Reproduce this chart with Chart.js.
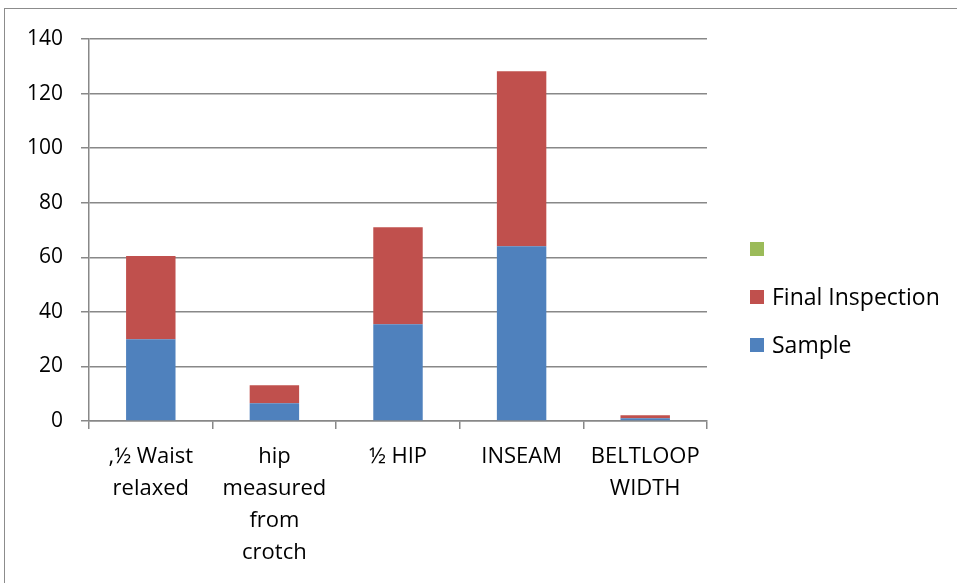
<!DOCTYPE html>
<html>
<head>
<meta charset="utf-8">
<script src="https://cdn.jsdelivr.net/npm/chart.js@4/dist/chart.umd.min.js"></script>
<style>
  html, body { margin: 0; padding: 0; background: #fff; }
  #wrap { width: 957px; height: 583px; position: relative; }
</style>
</head>
<body>
<div id="wrap"><canvas id="chart" width="957" height="583"></canvas></div>
<script>
// Measurement points (multi-line labels as arrays of lines)
const categories = [
  [',\u00BD Waist', 'relaxed'],
  ['hip', 'measured', 'from', 'crotch'],
  '\u00BD HIP',
  'INSEAM',
  ['BELTLOOP', 'WIDTH']
];
const sampleValues = [30, 6.5, 35.5, 64, 1];
const finalInspectionValues = [30.5, 6.6, 35.5, 64.2, 1.1];
const blankSeriesValues = [];
const seriesNames = ['Sample', 'Final Inspection', ''];
const yTicks = [0, 20, 40, 60, 80, 100, 120, 140];

const FONT = "'Open Sans', 'DejaVu Sans', sans-serif";
const GRID = '#888888';

// Outer frame of the chart object
const framePlugin = {
  id: 'frame',
  beforeDraw(chart) {
    const ctx = chart.ctx;
    ctx.save();
    ctx.fillStyle = '#ffffff';
    ctx.fillRect(0, 0, chart.width, chart.height);
    ctx.strokeStyle = '#8c8c8c';
    ctx.lineWidth = 1;
    ctx.strokeRect(4.5, 8.5, 2000, 2000);
    ctx.restore();
  }
};

// Legend on the right, series listed top-down in reverse order
const sideLegend = {
  id: 'sideLegend',
  afterDraw(chart) {
    const ctx = chart.ctx;
    const ds = chart.data.datasets.slice().reverse();
    ctx.save();
    ctx.font = '23px ' + FONT;
    ctx.textBaseline = 'middle';
    ctx.textAlign = 'left';
    ds.forEach((d, i) => {
      const cy = 249 + i * 48;
      ctx.fillStyle = d.backgroundColor;
      ctx.fillRect(750, cy - 7, 14, 14);
      ctx.fillStyle = '#000';
      ctx.fillText(d.label, 772, cy + 1);
    });
    ctx.restore();
  }
};

new Chart(document.getElementById('chart'), {
  type: 'bar',
  data: {
    labels: categories,
    datasets: [
      { label: seriesNames[0], data: sampleValues, backgroundColor: '#4F81BD', borderWidth: 0 },
      { label: seriesNames[1], data: finalInspectionValues, backgroundColor: '#C0504D', borderWidth: 0 },
      { label: seriesNames[2], data: blankSeriesValues, backgroundColor: '#9BBB59', borderWidth: 0 }
    ]
  },
  options: {
    responsive: false,
    animation: false,
    events: [],
    layout: { padding: { left: 0, top: 39, right: 250, bottom: 0 } },
    datasets: { bar: { categoryPercentage: 1, barPercentage: 0.4 } },
    plugins: { legend: { display: false }, tooltip: { enabled: false }, title: { display: false } },
    scales: {
      x: {
        stacked: true,
        afterFit(s) { s.height = 162; },
        grid: { display: true, drawOnChartArea: false, drawTicks: true, tickLength: 8, color: GRID, lineWidth: 1.5, offset: true },
        border: { display: true, color: GRID, width: 1.5 },
        ticks: {
          color: '#000',
          padding: 12,
          maxRotation: 0,
          autoSkip: false,
          font: { family: FONT, size: 22, lineHeight: 1.45 }
        }
      },
      y: {
        stacked: true,
        min: 0,
        max: 140,
        afterFit(s) { s.width = 89; },
        afterBuildTicks(s) { s.ticks = yTicks.map(v => ({ value: v })); },
        grid: { color: GRID, lineWidth: 1.5, drawTicks: true, tickLength: 8 },
        border: { display: true, color: GRID, width: 1.5 },
        ticks: {
          color: '#000',
          padding: 18,
          font: { family: FONT, size: 21 }
        }
      }
    }
  },
  plugins: [framePlugin, sideLegend]
});
</script>
</body>
</html>
